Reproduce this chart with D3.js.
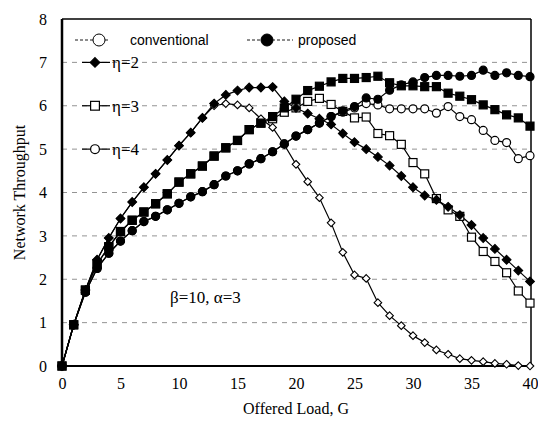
<!DOCTYPE html>
<html><head><meta charset="utf-8">
<script src="https://cdn.jsdelivr.net/npm/d3@7"></script>
<style>body{margin:0;background:#fff}</style>
</head><body>
<svg id="c" width="538" height="430"></svg>
<script>
const loads = [0,1,2,3,4,5,6,7,8,9,10,11,12,13,14,15,16,17,18,19,20,21,22,23,24,25,26,27,28,29,30,31,32,33,34,35,36,37,38,39,40];
const eta2Conv = [0,0.95,1.75,2.45,2.95,3.4,3.78,4.12,4.43,4.75,5.08,5.38,5.72,6.0,6.05,6.02,5.95,5.7,5.5,5.1,4.65,4.25,3.88,3.3,2.62,2.1,2.02,1.46,1.16,0.93,0.7,0.54,0.37,0.27,0.17,0.13,0.1,0.06,0.04,0.01,0];
const eta2Prop = [0,0.95,1.75,2.45,2.95,3.4,3.78,4.12,4.43,4.75,5.08,5.38,5.72,6.05,6.25,6.35,6.42,6.42,6.43,6.1,5.95,5.82,5.7,5.57,5.36,5.16,5.0,4.82,4.62,4.38,4.12,3.93,3.83,3.67,3.48,3.25,2.95,2.7,2.45,2.2,1.95];
const eta3Conv = [0,0.95,1.75,2.35,2.75,3.1,3.36,3.55,3.74,3.97,4.24,4.43,4.61,4.84,5.03,5.2,5.45,5.6,5.7,5.85,5.95,6.1,6.17,6.03,5.87,5.72,5.74,5.36,5.31,5.11,4.69,4.43,3.86,3.6,3.45,2.97,2.64,2.41,2.15,1.73,1.45];
const eta3Prop = [0,0.95,1.75,2.35,2.75,3.1,3.36,3.55,3.74,3.97,4.24,4.43,4.61,4.84,5.03,5.2,5.45,5.6,5.75,5.95,6.15,6.35,6.45,6.55,6.63,6.63,6.65,6.68,6.53,6.46,6.46,6.44,6.44,6.29,6.22,6.14,6.02,5.91,5.79,5.72,5.53];
const eta4Conv = [0,0.95,1.7,2.25,2.6,2.88,3.12,3.33,3.45,3.6,3.75,3.9,4.02,4.18,4.38,4.5,4.66,4.78,4.94,5.12,5.3,5.45,5.6,5.75,5.85,5.95,6.05,6.02,5.93,5.93,5.93,5.93,5.83,5.98,5.75,5.68,5.43,5.2,5.15,4.78,4.85];
const eta4Prop = [0,0.95,1.7,2.25,2.6,2.88,3.12,3.33,3.45,3.6,3.75,3.9,4.02,4.18,4.38,4.5,4.66,4.78,4.94,5.12,5.3,5.45,5.6,5.75,5.88,5.98,6.18,6.15,6.36,6.48,6.55,6.65,6.7,6.7,6.68,6.7,6.82,6.7,6.76,6.7,6.67];
const xTicks = [0,5,10,15,20,25,30,35,40];
const yTicks = [0,1,2,3,4,5,6,7,8];
const etaLabels = ["η=2","η=3","η=4"];
const legendLabels = ["conventional","proposed"];
const note = "β=10, α=3";
const xTitle = "Offered Load, G";
const yTitle = "Network Throughput";

const svg = d3.select("#c");
const L=62, R=530, T=19, B=366;
const x = d3.scaleLinear().domain([0,40]).range([L,R]);
const y = d3.scaleLinear().domain([0,8]).range([B,T]);
const serif = "'Liberation Serif','Times New Roman',serif";
const sans = "'Liberation Sans',Arial,sans-serif";

svg.append("g").selectAll("line").data(yTicks.filter(v=>v>0&&v<8)).join("line")
  .attr("x1",L).attr("x2",R).attr("y1",d=>y(d)).attr("y2",d=>y(d))
  .attr("stroke","#777").attr("stroke-width",0.8).attr("stroke-dasharray","5,5");

const xAxis = d3.axisBottom(x).tickValues(xTicks).tickSize(0).tickPadding(12);
const gx = svg.append("g").attr("transform",`translate(0,${B})`).call(xAxis);
gx.select(".domain").remove();
gx.selectAll("text").attr("font-family",serif).attr("font-size",16).attr("fill","#000");
const yAxis = d3.axisLeft(y).tickValues(yTicks).tickSize(0).tickPadding(15);
const gy = svg.append("g").attr("transform",`translate(${L},0)`).call(yAxis);
gy.select(".domain").remove();
gy.selectAll("text").attr("font-family",serif).attr("font-size",16).attr("fill","#000");

svg.append("line").attr("x1",L).attr("x2",R+1).attr("y1",T).attr("y2",T).attr("stroke","#000").attr("stroke-width",1.5);
svg.append("line").attr("x1",R+1).attr("x2",R+1).attr("y1",T).attr("y2",B).attr("stroke","#000").attr("stroke-width",1.5);
svg.append("line").attr("x1",L).attr("x2",L).attr("y1",T).attr("y2",B+1).attr("stroke","#000").attr("stroke-width",2.5);
svg.append("line").attr("x1",L).attr("x2",R+1).attr("y1",B).attr("y2",B).attr("stroke","#000").attr("stroke-width",2);

const series = [
  {v:eta4Conv, shape:"circle", filled:false},
  {v:eta3Conv, shape:"square", filled:false},
  {v:eta2Conv, shape:"diamond", filled:false},
  {v:eta4Prop, shape:"circle", filled:true},
  {v:eta3Prop, shape:"square", filled:true},
  {v:eta2Prop, shape:"diamond", filled:true},
];
const line = d3.line().x((d,i)=>x(loads[i])).y(d=>y(d));
function marker(g, shape, filled, cx, cy, scale){
  scale = scale||1;
  const fill = filled?"#000":"#fff";
  if(shape==="circle"){
    g.append("circle").attr("cx",cx).attr("cy",cy).attr("r",4*scale).attr("fill",fill).attr("stroke","#000").attr("stroke-width",1.2);
  } else if(shape==="square"){
    const s=8*scale;
    g.append("rect").attr("x",cx-s/2).attr("y",cy-s/2).attr("width",s).attr("height",s).attr("fill",fill).attr("stroke","#000").attr("stroke-width",1.2);
  } else {
    const s=(filled?4.4:3.8)*scale;
    g.append("path").attr("d",`M${cx},${cy-s}L${cx+s},${cy}L${cx},${cy+s}L${cx-s},${cy}Z`).attr("fill",fill).attr("stroke","#000").attr("stroke-width",1.1);
  }
}
series.forEach(s=>{
  svg.append("path").datum(s.v).attr("d",line).attr("fill","none").attr("stroke","#000").attr("stroke-width",1.2);
});
series.forEach(s=>{
  const g = svg.append("g");
  s.v.forEach((d,i)=>marker(g,s.shape,s.filled,x(loads[i]),y(d)));
});

const lg = svg.append("g");
const ly = 40;
[[75,110,99,false,130],[247,293,267,true,298]].forEach((p,i)=>{
  lg.append("line").attr("x1",p[0]).attr("x2",p[1]).attr("y1",ly).attr("y2",ly).attr("stroke","#000").attr("stroke-width",0.9).attr("stroke-dasharray","3,2");
  lg.append("circle").attr("cx",p[2]).attr("cy",ly).attr("r",6).attr("fill",p[3]?"#000":"#fff").attr("stroke","#000").attr("stroke-width",1);
  lg.append("text").attr("x",p[4]).attr("y",ly+5).attr("font-family",sans).attr("font-size",14).text(legendLabels[i]);
});

const shapes=["diamond","square","circle"];
[7,6,5].forEach((v,i)=>{
  const yy=y(v);
  svg.append("line").attr("x1",82).attr("x2",110).attr("y1",yy).attr("y2",yy).attr("stroke","#000").attr("stroke-width",1.2);
  marker(svg,shapes[i],i===0,95,yy,1.1);
  svg.append("text").attr("x",112).attr("y",yy+6).attr("font-family",serif).attr("font-size",17).text(etaLabels[i]);
});

svg.append("text").attr("x",170).attr("y",303).attr("font-family",serif).attr("font-size",17).text(note);
svg.append("text").attr("x",(L+R)/2).attr("y",414).attr("text-anchor","middle").attr("font-family",serif).attr("font-size",16).text(xTitle);
svg.append("text").attr("transform",`translate(25,${(T+B)/2}) rotate(-90)`).attr("text-anchor","middle").attr("font-family",serif).attr("font-size",16).text(yTitle);
</script>
</body></html>
